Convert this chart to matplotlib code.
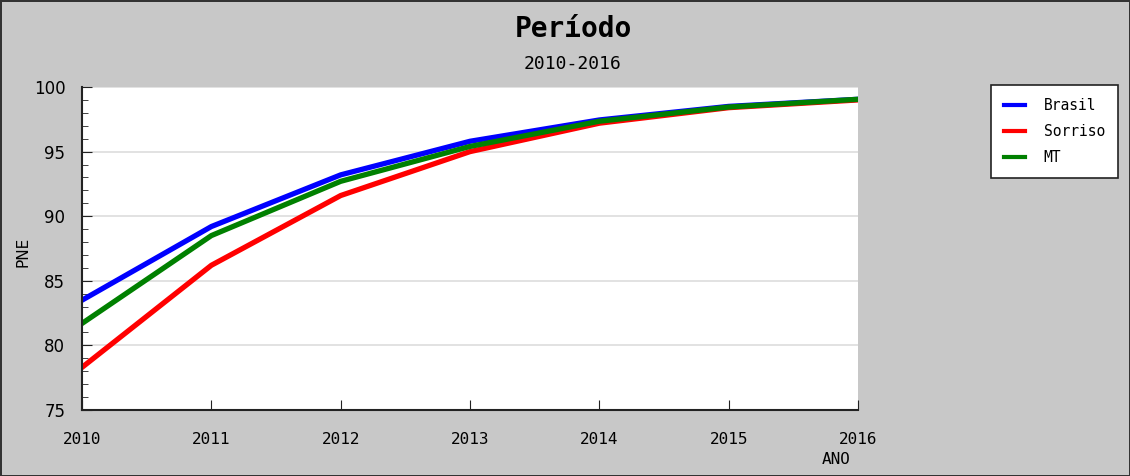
import matplotlib
matplotlib.use('Agg')
import matplotlib.pyplot as plt
from matplotlib.ticker import MultipleLocator

anos = [2010, 2011, 2012, 2013, 2014, 2015, 2016]
brasil = [83.5, 89.2, 93.2, 95.8, 97.45, 98.5, 99.05]
sorriso = [78.3, 86.2, 91.6, 95.0, 97.2, 98.4, 99.0]
mt = [81.7, 88.5, 92.7, 95.4, 97.35, 98.45, 99.05]

plt.rcParams['font.family'] = ['DejaVu Sans Mono', 'DejaVu Sans']

fig = plt.figure(figsize=(11.3, 4.76), dpi=100, facecolor='#c8c8c8',
                 edgecolor='#333333', linewidth=2)
ax = fig.add_axes([0.0726, 0.1387, 0.6867, 0.6785])
ax.set_facecolor('white')

ax.plot(anos, brasil, color='#0000ff', lw=3.8, label='Brasil')
ax.plot(anos, sorriso, color='#ff0000', lw=3.8, label='Sorriso')
ax.plot(anos, mt, color='#008000', lw=3.8, label='MT')

ax.set_xlim(2010, 2016)
ax.set_ylim(75, 100)
ax.yaxis.set_major_locator(MultipleLocator(5))
ax.yaxis.set_minor_locator(MultipleLocator(1))
ax.xaxis.set_major_locator(MultipleLocator(1))
ax.grid(axis='y', which='major', color='#dddddd', lw=1.2)
ax.set_axisbelow(True)
ax.tick_params(axis='both', which='both', direction='in', color='#222222')
ax.tick_params(axis='y', which='major', length=7, pad=12)
ax.tick_params(axis='y', which='minor', length=4)
ax.tick_params(axis='x', length=7, pad=16, labelsize=11.5)
for t in ax.get_yticklabels():
    t.set_family('DejaVu Sans')
    t.set_fontsize(12)
for s in ['top', 'right']:
    ax.spines[s].set_visible(False)
for s in ['left', 'bottom']:
    ax.spines[s].set_color('#222222')
    ax.spines[s].set_linewidth(1.5)

fig.text(0.507, 0.94, 'Período', ha='center', va='center', fontsize=20, fontweight='bold')
fig.text(0.507, 0.865, '2010-2016', ha='center', va='center', fontsize=13)
fig.text(0.74, 0.035, 'ANO', ha='center', va='center', fontsize=11.5)
fig.text(0.02, 0.47, 'PNE', rotation=90, ha='center', va='center', fontsize=11,
         family='DejaVu Sans')

leg = fig.legend(loc='upper left', bbox_to_anchor=(0.877, 0.822), fontsize=10.5,
                 frameon=True, fancybox=False, handlelength=1.4, borderpad=0.9,
                 labelspacing=0.75, handletextpad=1.3, borderaxespad=0)
leg.get_frame().set_edgecolor('#222222')
leg.get_frame().set_facecolor('white')
leg.get_frame().set_alpha(1)
leg.get_frame().set_linewidth(1.2)
for l in leg.get_lines():
    l.set_linewidth(3)

fig.savefig('out.png', dpi=100, facecolor=fig.get_facecolor(), edgecolor=fig.get_edgecolor())
